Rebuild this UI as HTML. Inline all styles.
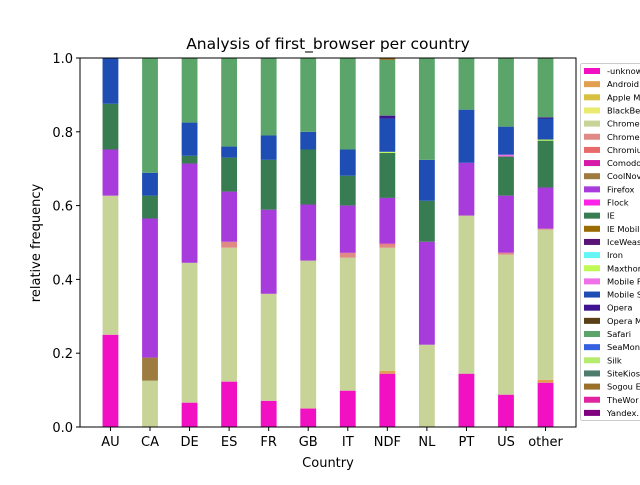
<!DOCTYPE html>
<html><head><meta charset="utf-8"><style>
body{margin:0;background:#fff;}
svg text{font-family:"DejaVu Sans","Liberation Sans",sans-serif;}
</style></head><body>
<svg id="chart" width="640" height="480" xmlns="http://www.w3.org/2000/svg">
<rect width="640" height="480" fill="#fff"/>
<text x="328" y="49" text-anchor="middle" font-size="15.5">Analysis of first_browser per country</text>
<g id="bars"></g>
<g id="axes"></g>
<g id="legend"></g>
</svg>
<script>
const countries=["AU","CA","DE","ES","FR","GB","IT","NDF","NL","PT","US","other"];
const browsers=["-unknown-","Android Browser","Apple Mail","BlackBerry Browser","Chrome","Chrome Frame","Chromium","Comodo Dragon","CoolNovo","Firefox","Flock","IE","IE Mobile","IceWeasel","Iron","Maxthon","Mobile Firefox","Mobile Safari","Opera","Opera Mini","Safari","SeaMonkey","Silk","SiteKiosk","Sogou Explorer","TheWorld Browser","Yandex.Browser"];
const legendLabels=["-unknow","Android","Apple M","BlackBe","Chrome","Chrome","Chromiu","Comodo","CoolNov","Firefox","Flock","IE","IE Mobil","IceWeas","Iron","Maxthor","Mobile F","Mobile S","Opera","Opera M","Safari","SeaMon","Silk","SiteKios","Sogou E","TheWor","Yandex."];
const colors=["#f210c3","#e0a050","#d9c040","#eaea70","#c8d398","#e08a85","#e86a6a","#d61aa8","#9e7b3e","#a83bdb","#ff22e8","#387d52","#9a6b00","#5a1478","#66f5f5","#c0f855","#f070e8","#1e4db3","#3f1490","#5a4016","#5ba56b","#3561e0","#b5ec6e","#4e7d70","#9a7028","#e024a0","#800080"];
// per-browser series values (fraction per country, order of countries)
const unknownVals=[0.250,0,0.066,0.123,0.071,0.050,0.0985,0.1445,0,0.1445,0.0876,0.120];
const androidVals=[0,0,0,0,0,0,0,0.008,0,0,0,0.008];
const chromeVals=[0.377,0.1256,0.379,0.363,0.290,0.401,0.3605,0.3333,0.223,0.4285,0.3794,0.407];
const chromeFrameVals=[0,0,0,0.016,0,0,0.013,0.008,0,0,0.0055,0.0025];
const chromiumVals=[0,0,0,0,0,0,0,0.003,0,0,0,0];
const coolnovoVals=[0,0.0624,0,0,0,0,0,0,0,0,0,0];
const firefoxVals=[0.125,0.377,0.269,0.136,0.228,0.152,0.128,0.124,0.279,0.143,0.1545,0.1115];
const ieVals=[0.124,0.062,0.021,0.092,0.135,0.149,0.081,0.122,0.111,0,0.106,0.127];
const maxthonVals=[0,0,0,0,0,0,0,0.003,0,0,0,0.003];
const mobileFirefoxVals=[0,0,0,0,0,0,0,0,0,0,0.005,0];
const mobileSafariVals=[0.124,0.062,0.090,0.030,0.066,0.048,0.071,0.090,0.111,0.144,0.076,0.057];
const operaVals=[0,0,0,0,0,0,0,0.008,0,0,0,0.003];
const safariVals=[0,0.311,0.175,0.240,0.210,0.200,0.248,0.151,0.276,0.140,0.186,0.161];
const sogouVals=[0,0,0,0,0,0,0,0.005,0,0,0,0];
const seriesMap={0:unknownVals,1:androidVals,4:chromeVals,5:chromeFrameVals,6:chromiumVals,8:coolnovoVals,9:firefoxVals,11:ieVals,15:maxthonVals,16:mobileFirefoxVals,17:mobileSafariVals,18:operaVals,20:safariVals,24:sogouVals};
const yTicks=[0.0,0.2,0.4,0.6,0.8,1.0];
const yTickLabels=["0.0","0.2","0.4","0.6","0.8","1.0"];

const L=80,R=576,T=58,B=427;
const xmin=-0.77,xmax=11.77;
const xs=i=>L+(i-xmin)/(xmax-xmin)*(R-L);
const ys=v=>B-v*(B-T);
const bw=0.4*(R-L)/(xmax-xmin);
const NS="http://www.w3.org/2000/svg";
function mk(tag,attrs,parent){const e=document.createElementNS(NS,tag);for(const k in attrs)e.setAttribute(k,attrs[k]);parent.appendChild(e);return e;}
const bars=document.getElementById('bars');
countries.forEach((c,i)=>{
  let cum=0;
  browsers.forEach((b,j)=>{
    const s=seriesMap[j]; if(!s) return;
    const v=s[i]; if(!v) return;
    const r=mk('rect',{x:xs(i)-bw/2,y:ys(cum+v),width:bw,height:ys(cum)-ys(cum+v),fill:colors[j]},bars);
    
    
    cum+=v;
  });
});
const ax=document.getElementById('axes');
const fr=mk('rect',{x:L,y:T,width:R-L,height:B-T,fill:'none',stroke:'#000','stroke-width':1},ax);


countries.forEach((c,i)=>{
  mk('line',{x1:xs(i),x2:xs(i),y1:B,y2:B+4,stroke:'#000'},ax);
  const t=mk('text',{x:xs(i),y:B+19,'text-anchor':'middle','font-size':13},ax);
  t.textContent=c;
  
  
});
yTicks.forEach((v,k)=>{
  mk('line',{x1:L-4,x2:L,y1:ys(v),y2:ys(v),stroke:'#000'},ax);
  const t=mk('text',{x:L-7,y:ys(v)+5,'text-anchor':'end','font-size':13},ax);
  t.textContent=yTickLabels[k];
  
  
});
const xl=mk('text',{x:328,y:467,'text-anchor':'middle','font-size':13},ax);
xl.textContent='Country';


const yl=mk('text',{x:40,y:243,'text-anchor':'middle','font-size':13,transform:'rotate(-90 40 243)'},ax);
yl.textContent='relative frequency';


const lg=document.getElementById('legend');
const box=mk('rect',{x:580.5,y:63.5,width:70,height:357,fill:'#fff',stroke:'#ccc',rx:2},lg);


legendLabels.forEach((lab,j)=>{
  const y=71+j*13.15;
  const g=mk('g',{},lg);
  
  
  mk('rect',{x:584,y:y-3,width:16,height:6,fill:colors[j]},g);
  const t=mk('text',{x:607,y:y+3,'font-size':8.3,fill:'#000'},g);
  t.textContent=lab;
});
</script>
</body></html>
